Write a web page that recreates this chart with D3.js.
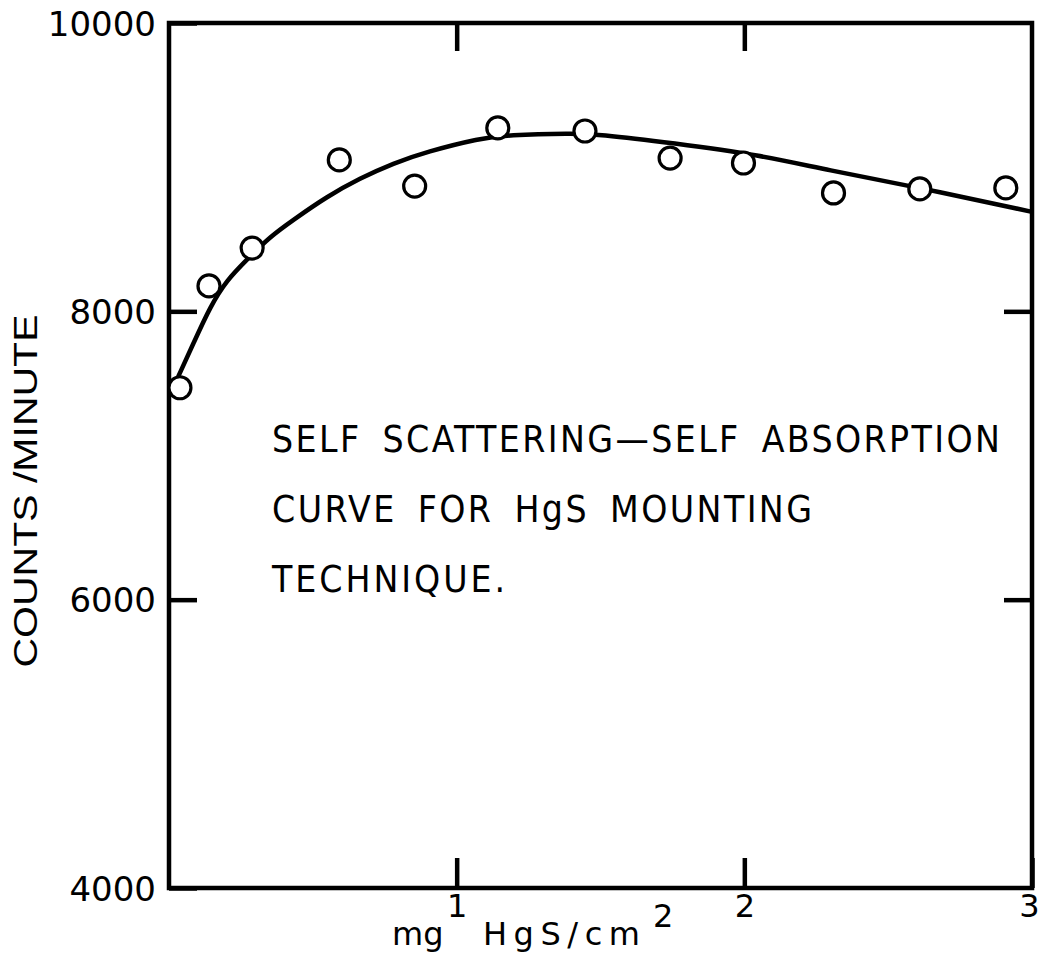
<!DOCTYPE html>
<html>
<head>
<meta charset="utf-8">
<script src="https://cdn.jsdelivr.net/npm/d3@7"></script>
<style>
  body { margin: 0; background: #fff; }
  svg text { fill: #000; }
</style>
</head>
<body>
<svg id="chart" width="1041" height="956"></svg>
<script>
// measured points (mg HgS / cm^2 , counts/minute)
var pointX = [0.038, 0.139, 0.289, 0.592, 0.854, 1.143, 1.446, 1.742, 1.997, 2.310, 2.610, 2.909];
var pointY = [7470, 8176, 8439, 9050, 8869, 9272, 9251, 9063, 9029, 8821, 8849, 8856];

// hand drawn fitted curve
var curveX = [0.032, 0.085, 0.143, 0.201, 0.270, 0.351, 0.432, 0.548, 0.664, 0.780, 0.896, 1.081, 1.175, 1.404, 1.488, 1.752, 2.055, 2.287, 2.600, 3.0];
var curveY = [7547, 7778, 8032, 8217, 8356, 8518, 8634, 8795, 8923, 9027, 9107, 9200, 9223, 9235, 9230, 9167, 9084, 8980, 8862, 8690];

var yTicks = [4000, 6000, 8000, 10000];
var xTicks = [1, 2, 3];

var svg = d3.select("#chart");

var x = d3.scaleLinear().domain([0, 3]).range([169, 1032]);
var y = d3.scaleLinear().domain([4000, 10000]).range([888, 23]);

// frame
svg.append("rect")
  .attr("x", x(0)).attr("y", y(10000))
  .attr("width", x(3) - x(0)).attr("height", y(4000) - y(10000))
  .attr("fill", "none").attr("stroke", "#000").attr("stroke-width", 4.5);

var tickFont = "'DejaVu Sans', sans-serif";

var axLeft = svg.append("g").attr("transform", "translate(" + x(0) + ",0)")
  .call(d3.axisLeft(y).tickValues(yTicks).tickSize(-28).tickPadding(14).tickFormat(d3.format("d")));
var axRight = svg.append("g").attr("transform", "translate(" + x(3) + ",0)")
  .call(d3.axisRight(y).tickValues([6000, 8000]).tickSize(-28).tickFormat(""));
var axBottom = svg.append("g").attr("transform", "translate(0," + y(4000) + ")")
  .call(d3.axisBottom(x).tickValues(xTicks).tickSize(-30).tickPadding(3).tickFormat(d3.format("d")));
var axTop = svg.append("g").attr("transform", "translate(0," + y(10000) + ")")
  .call(d3.axisTop(x).tickValues([1, 2]).tickSize(-28).tickFormat(""));

[axLeft, axRight, axBottom, axTop].forEach(function(g) {
  g.select(".domain").remove();
  g.selectAll(".tick line").attr("stroke", "#000").attr("stroke-width", 4.5);
});

axLeft.selectAll("text")
  .attr("font-family", tickFont).attr("font-size", 34).attr("fill", "#000")
  .attr("x", -13).attr("dy", "0.36em");
axBottom.selectAll("text")
  .attr("font-family", tickFont).attr("font-size", 32).attr("fill", "#000")
  .attr("dy", "0.8em");
axBottom.selectAll(".tick").filter(function(d) { return d === 3; }).select("text")
  .attr("text-anchor", "end").attr("x", 7);

// curve
var line = d3.line()
  .x(function(d) { return x(d[0]); })
  .y(function(d) { return y(d[1]); })
  .curve(d3.curveBasis);

svg.append("path")
  .datum(d3.zip(curveX, curveY))
  .attr("d", line)
  .attr("fill", "none").attr("stroke", "#000").attr("stroke-width", 4.5);

svg.selectAll("circle.pt")
  .data(d3.zip(pointX, pointY))
  .enter().append("circle")
  .attr("class", "pt")
  .attr("cx", function(d) { return x(d[0]); })
  .attr("cy", function(d) { return y(d[1]); })
  .attr("r", 11)
  .attr("fill", "#fff").attr("stroke", "#000").attr("stroke-width", 3.2);

// axis titles
svg.append("text")
  .attr("transform", "translate(37,491) rotate(-90)")
  .attr("text-anchor", "middle")
  .attr("font-family", "'Liberation Sans', Arial, sans-serif")
  .attr("font-size", 33)
  .attr("textLength", 353).attr("lengthAdjust", "spacingAndGlyphs")
  .text("COUNTS /MINUTE");

svg.append("text")
  .attr("x", 392).attr("y", 945)
  .attr("font-family", tickFont).attr("font-size", 32)
  .text("mg");
svg.append("text")
  .attr("x", 483).attr("y", 945)
  .attr("font-family", tickFont).attr("font-size", 32)
  .attr("textLength", 157).attr("lengthAdjust", "spacing")
  .text("HgS/cm");
svg.append("text")
  .attr("x", 653).attr("y", 927)
  .attr("font-family", tickFont).attr("font-size", 32)
  .text("2");

// annotation
var note = ["SELF SCATTERING\u2014SELF ABSORPTION", "CURVE FOR HgS MOUNTING", "TECHNIQUE."];
var noteLen = [728, 540, 233];
svg.selectAll("text.note")
  .data(note)
  .enter().append("text")
  .attr("class", "note")
  .attr("x", 272)
  .attr("y", function(d, i) { return 452 + i * 70; })
  .attr("font-family", "'DejaVu Sans Condensed', 'Liberation Sans Narrow', sans-serif")
  .attr("font-size", 37)
  .attr("word-spacing", 8)
  .attr("textLength", function(d, i) { return noteLen[i]; })
  .attr("lengthAdjust", "spacing")
  .text(function(d) { return d; });
</script>
</body>
</html>
